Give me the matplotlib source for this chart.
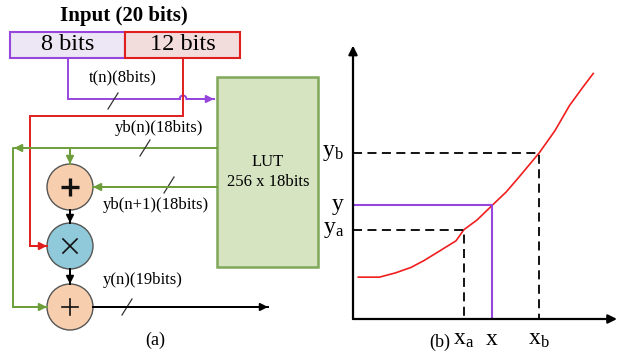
import matplotlib
matplotlib.use("Agg")
import numpy as np
import matplotlib.pyplot as plt
from matplotlib.patches import Rectangle, Circle

plt.rcParams['font.family'] = ['Liberation Serif', 'DejaVu Serif']
plt.rcParams['mathtext.fontset'] = 'custom'
plt.rcParams['mathtext.rm'] = 'Liberation Serif'
plt.rcParams['mathtext.it'] = 'Liberation Serif'

# labels of the block diagram
title = 'Input (20 bits)'
field_labels = ['8 bits', '12 bits']
bus_labels = ['t(n)(8bits)', 'yb(n)(18bits)', 'yb(n+1)(18bits)', 'y(n)(19bits)']
lut_labels = ['LUT', '256 x 18bits']

# interpolation curve of panel (b)
curve_x = [2, 10, 16, 22, 27, 33, 39, 42, 47, 53, 58, 63, 70.5, 76.5, 82, 87, 91]
curve_y = [15, 15, 16.5, 18.5, 21, 24.5, 28, 32, 35.5, 41, 45.5, 51, 59.5, 67.5, 76.5, 83, 88]
ref_x = [42, 52.7, 70.5]          # xa, x, xb
ref_y = [32, 41, 59.5]            # ya, y, yb
ref_xlabels = [r'x$_{\rm a}$', 'x', r'x$_{\rm b}$']
ref_ylabels = [r'y$_{\rm a}$', 'y', r'y$_{\rm b}$']

PURPLE = '#9646DC'
RED = '#E01E1E'
GREEN = '#6E9E3C'
W, H = 617, 355

fig = plt.figure(figsize=(W / 100, H / 100), dpi=100)
ax = fig.add_axes([0, 0, 1, 1])
ax.set_xlim(0, W)
ax.set_ylim(H, 0)
ax.axis('off')


def wire(xs, ys, color, head=True):
    ax.plot(xs, ys, color=color, lw=1.4, solid_joinstyle='miter')
    if head:
        ax.annotate('', xy=(xs[-1], ys[-1]), xytext=(xs[-2], ys[-2]),
                    arrowprops=dict(arrowstyle='-|>', color=color, lw=1.4,
                                    mutation_scale=11, shrinkA=0, shrinkB=0))


def slash(x, y):
    ax.plot([x - 5, x + 5], [y + 8, y - 8], color='#333333', lw=0.9)


# ---- panel (a) ----
ax.text(124, 16, title, ha='center', va='center', fontsize=15, fontweight='bold')
ax.add_patch(Rectangle((10, 32), 115, 26, fc='#ECE6F5', ec=PURPLE, lw=1.5))
ax.add_patch(Rectangle((125, 32), 115, 26, fc='#F2DCDC', ec=RED, lw=1.5))
ax.text(68, 45, field_labels[0], ha='center', va='center', fontsize=17.5)
ax.text(183, 45, field_labels[1], ha='center', va='center', fontsize=17.5)

ax.add_patch(Rectangle((217, 77), 101, 190, fc='#D7E4C2', ec='#80A85A', lw=1.8))
ax.text(268, 162, lut_labels[0], ha='center', va='center', fontsize=12)
ax.text(268, 182, lut_labels[1], ha='center', va='center', fontsize=12)

# purple t(n) bus, hopping over the red line
hop = np.linspace(179.5, 186.5, 15)
ax.plot(hop, 99 - np.sqrt(np.clip(3.5 ** 2 - (hop - 183) ** 2, 0, None)), color=PURPLE, lw=1.4)
wire([68, 68, 179.5], [58, 99, 99], PURPLE, head=False)
wire([186.5, 214], [99, 99], PURPLE)
ax.text(123, 77, bus_labels[0], ha='center', va='center', fontsize=12)
slash(113, 101)

# red fraction bus
wire([183, 183, 30, 30, 47], [58, 116, 116, 246, 246], RED)

# green yb(n) bus
ax.plot([217, 13, 13], [148, 148, 307], color=GREEN, lw=1.4)
ax.annotate('', xy=(14, 148), xytext=(30, 148),
            arrowprops=dict(arrowstyle='-|>', color=GREEN, lw=1.4,
                            mutation_scale=11, shrinkA=0, shrinkB=0))
wire([13, 47], [307, 307], GREEN)
wire([70, 70], [148, 164], GREEN)
ax.text(159, 128, bus_labels[1], ha='center', va='center', fontsize=12)
slash(145, 148)

# green yb(n+1) bus
wire([217, 93], [187, 187], GREEN)
ax.text(156, 205, bus_labels[2], ha='center', va='center', fontsize=12)
slash(169, 185)

# operators: adder, multiplier, adder
for cy, fc in [(187, '#F8CFAE'), (246, '#8FC9DA'), (307, '#F8CFAE')]:
    ax.add_patch(Circle((70, cy), 23, fc=fc, ec='#555555', lw=1.0))
ax.plot([61, 79], [187, 187], color='#111111', lw=2.4, solid_capstyle='butt')
ax.plot([70, 70], [178, 196], color='#111111', lw=2.4, solid_capstyle='butt')
ax.plot([62, 78], [307, 307], color='#111111', lw=1.2)
ax.plot([70, 70], [299, 315], color='#111111', lw=1.2)
ax.plot([63, 77], [239, 253], color='#111111', lw=1.2)
ax.plot([63, 77], [253, 239], color='#111111', lw=1.2)

wire([70, 70], [210, 223], 'black')
wire([70, 70], [269, 284], 'black')
wire([93, 268], [307, 307], 'black')
ax.text(143, 280, bus_labels[3], ha='center', va='center', fontsize=12)
slash(127, 307)
ax.text(155, 340, '(a)', ha='center', va='center', fontsize=13)

# ---- panel (b) ----
bx = fig.add_axes([353 / W, (H - 319) / H, (W - 353) / W, (319 - 40) / H])
bx.set_xlim(0, 100)
bx.set_ylim(0, 100)
bx.axis('off')
arrow_kw = dict(arrowstyle='-|>', color='black', lw=1.6, mutation_scale=13, shrinkA=0, shrinkB=0)
bx.annotate('', xy=(100, 0), xytext=(0, 0), arrowprops=arrow_kw, annotation_clip=False)
bx.annotate('', xy=(0, 98), xytext=(0, 0), arrowprops=arrow_kw, annotation_clip=False)

bx.plot(curve_x, curve_y, color='#F01E1E', lw=1.2)
for i, (rx, ry) in enumerate(zip(ref_x, ref_y)):
    if i == 1:
        bx.plot([0, rx, rx], [ry, ry, 0], color=PURPLE, lw=1.5)
    else:
        bx.plot([0, rx, rx], [ry, ry, 0], color='black', lw=1.3, ls=(0, (5, 3)))
    bx.text(rx, -3.5, ref_xlabels[i], ha='center', va='top', fontsize=17, clip_on=False)
    bx.text(-3.5, ry, ref_ylabels[i], ha='right', va='center', fontsize=17, clip_on=False)

bx.text(33, -8.5, '(b)', ha='center', va='center', fontsize=13, clip_on=False)

fig.savefig('out.png', dpi=100)
